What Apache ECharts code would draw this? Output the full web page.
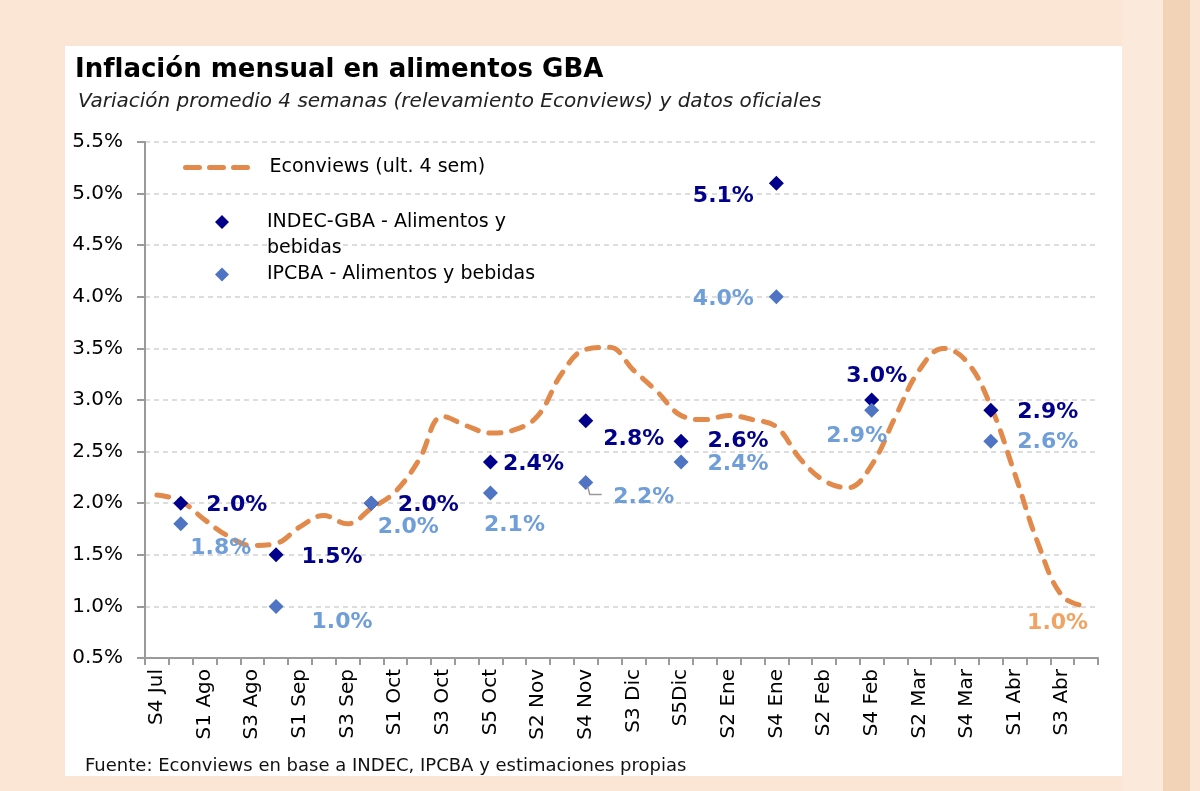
<!DOCTYPE html>
<html lang="es">
<head>
<meta charset="UTF-8">
<title>Inflación mensual en alimentos GBA</title>
<style>
  body { margin: 0; background: #fbe6d6; }
  #main { width: 1200px; height: 791px; }
</style>
</head>
<body>
<div id="main"></div>
<script src="https://cdn.jsdelivr.net/npm/echarts@6/dist/echarts.min.js"></script>
<script>
  // semanas (solo se rotula una de cada dos)
  const weeks = [
    'S4 Jul', 'S5 Jul', 'S1 Ago', 'S2 Ago', 'S3 Ago', 'S4 Ago', 'S1 Sep', 'S2 Sep',
    'S3 Sep', 'S4 Sep', 'S1 Oct', 'S2 Oct', 'S3 Oct', 'S4 Oct', 'S5 Oct', 'S1 Nov',
    'S2 Nov', 'S3 Nov', 'S4 Nov', 'S2 Dic', 'S3 Dic', 'S4 Dic', 'S5Dic', 'S1 Ene',
    'S2 Ene', 'S3 Ene', 'S4 Ene', 'S1 Feb', 'S2 Feb', 'S3 Feb', 'S4 Feb', 'S1 Mar',
    'S2 Mar', 'S3 Mar', 'S4 Mar', 'S5 Mar', 'S1 Abr', 'S2 Abr', 'S3 Abr', 'S4 Abr'
  ];

  // Econviews, promedio ult. 4 semanas (%)
  const econviews = [
    2.08, 2.02, 1.84, 1.68, 1.59, 1.61, 1.77, 1.88, 1.80, 1.95,
    2.11, 2.42, 2.84, 2.75, 2.68, 2.71, 2.85, 3.26, 3.49, 3.51,
    3.29, 3.08, 2.85, 2.81, 2.85, 2.81, 2.74, 2.43, 2.22, 2.15,
    2.37, 2.84, 3.29, 3.50, 3.37, 2.94, 2.29, 1.60, 1.10, 1.00
  ];

  // datos oficiales mensuales (ubicados en la semana de cierre)
  const _ = null;
  const indec = [
    _, 2.0, _, _, _, 1.5, _, _, _, 2.0,
    _, _, _, _, 2.4, _, _, _, 2.8, _,
    _, _, 2.6, _, _, _, 5.1, _, _, _,
    3.0, _, _, _, _, 2.9, _, _, _, _
  ];
  const ipcba = [
    _, 1.8, _, _, _, 1.0, _, _, _, 2.0,
    _, _, _, _, 2.1, _, _, _, 2.2, _,
    _, _, 2.4, _, _, _, 4.0, _, _, _,
    2.9, _, _, _, _, 2.6, _, _, _, _
  ];

  // desplazamiento de las etiquetas respecto del marcador [dx, dy]
  const indecLabelOffset = {
    1: [56, 2], 5: [56, 2], 9: [57, 2], 14: [43, 2], 18: [48, 19],
    22: [57, 0], 26: [-53, 13], 30: [5, -24], 35: [57, 2]
  };
  const ipcbaLabelOffset = {
    1: [40, 24], 5: [66, 16], 9: [37, 24], 14: [24, 32], 18: [58, 15],
    22: [57, 2], 26: [-53, 2], 30: [-15, 26], 35: [57, 1]
  };

  const NAVY = '#00008b';
  const BLUE = '#4f74c4';
  const LIGHT = '#6f9ed8';
  const ORANGE = '#e28a4b';
  const FONT = 'DejaVu Sans';

  const pct = v => v.toFixed(1) + '%';

  function pointData(values, offsets, color) {
    return values.map((v, i) => {
      if (v === null) return null;
      return {
        value: v,
        label: {
          show: true,
          position: 'inside',
          offset: offsets[i],
          formatter: p => pct(p.value),
          color: color,
          fontFamily: FONT,
          fontWeight: 'bold',
          fontSize: 22
        }
      };
    });
  }

  // diamante de leyenda alineado con la primera linea del texto
  const diamondTop = 'path://M7,0L14,7L7,14L0,7Z M7,40L7.01,40Z';

  const chart = echarts.init(document.getElementById('main'));

  const option = {
    backgroundColor: '#fbe6d6',
    animation: false,
    graphic: [
      { id: 'strip1', type: 'rect', shape: { x: 1122, y: 0, width: 41, height: 791 }, style: { fill: '#fbe9dc' }, z: -10 },
      { id: 'strip2', type: 'rect', shape: { x: 1163, y: 0, width: 27, height: 791 }, style: { fill: '#f3d3b8' }, z: -10 },
      { id: 'panel', type: 'rect', shape: { x: 65, y: 46, width: 1057, height: 730 }, style: { fill: '#ffffff' }, z: -10 }
    ],
    title: [
      {
        text: 'Inflación mensual en alimentos GBA',
        left: 70, top: 52,
        textStyle: { fontFamily: FONT, fontWeight: 'bold', fontSize: 26, color: '#000' }
      },
      {
        text: 'Variación promedio 4 semanas (relevamiento Econviews) y datos oficiales',
        left: 73, top: 87,
        textStyle: { fontFamily: FONT, fontStyle: 'italic', fontWeight: 'normal', fontSize: 20, color: '#222' }
      },
      {
        text: 'Fuente: Econviews en base a INDEC, IPCBA y estimaciones propias',
        left: 80, top: 752,
        textStyle: { fontFamily: FONT, fontWeight: 'normal', fontSize: 18, color: '#111' }
      }
    ],
    legend: [
      {
        data: ['Econviews (ult. 4 sem)'],
        left: 183, top: 158, padding: 0,
        itemWidth: 67, itemHeight: 12,
        itemStyle: { opacity: 0 },
        lineStyle: { color: ORANGE, width: 5, type: [14, 10], cap: 'round' },
        textStyle: { fontFamily: FONT, fontSize: 19, color: '#000', padding: [0, 0, 0, 12] }
      },
      {
        data: [{ name: 'INDEC-GBA - Alimentos y bebidas', icon: diamondTop }],
        left: 215, top: 209, padding: 0,
        itemWidth: 14, itemHeight: 40,
        formatter: name => name.replace(' y bebidas', ' y\nbebidas'),
        textStyle: { fontFamily: FONT, fontSize: 19, lineHeight: 26, color: '#000', padding: [0, 0, 0, 33] }
      },
      {
        data: [{ name: 'IPCBA - Alimentos y bebidas', icon: 'diamond' }],
        left: 215, top: 265, padding: 0,
        itemWidth: 14, itemHeight: 14,
        textStyle: { fontFamily: FONT, fontSize: 19, color: '#000', padding: [0, 0, 0, 33] }
      }
    ],
    grid: { left: 145, right: 102, top: 142, bottom: 133 },
    xAxis: {
      type: 'category',
      data: weeks,
      boundaryGap: true,
      axisLine: { lineStyle: { color: '#9a9a9a', width: 2 } },
      axisTick: { show: true, interval: 0, length: 7, lineStyle: { color: '#9a9a9a', width: 2 } },
      axisLabel: {
        interval: 1,
        rotate: 90,
        margin: 11,
        fontFamily: FONT,
        fontSize: 20,
        color: '#000'
      }
    },
    yAxis: {
      type: 'value',
      min: 0.5, max: 5.5, interval: 0.5,
      axisLine: { show: true, lineStyle: { color: '#9a9a9a', width: 2 } },
      axisTick: { show: true, length: 8, lineStyle: { color: '#9a9a9a', width: 2 } },
      axisLabel: {
        formatter: v => pct(v),
        margin: 22,
        fontFamily: FONT,
        fontSize: 20,
        color: '#000'
      },
      splitLine: { lineStyle: { color: '#d2d2d2', width: 1.5, type: [5, 4] } }
    },
    series: [
      {
        name: 'Econviews (ult. 4 sem)',
        type: 'line',
        data: econviews,
        smooth: 0.4,
        symbol: 'none',
        lineStyle: { color: ORANGE, width: 5, type: [12, 11], cap: 'round' },
        itemStyle: { color: ORANGE },
        endLabel: {
          show: true,
          distance: 0,
          offset: [-59, 17],
          formatter: p => pct(p.value),
          color: '#f0a362',
          fontFamily: FONT,
          fontWeight: 'bold',
          fontSize: 22
        },
        z: 2
      },
      {
        name: 'INDEC-GBA - Alimentos y bebidas',
        type: 'scatter',
        data: pointData(indec, indecLabelOffset, NAVY),
        symbol: 'diamond',
        symbolSize: 15,
        itemStyle: { color: NAVY, opacity: 1 },
        z: 3
      },
      {
        name: 'IPCBA - Alimentos y bebidas',
        type: 'scatter',
        data: pointData(ipcba, ipcbaLabelOffset, LIGHT),
        symbol: 'diamond',
        symbolSize: 15,
        itemStyle: { color: BLUE, opacity: 1 },
        z: 4
      }
    ]
  };

  chart.setOption(option);

  // linea guia de la etiqueta IPCBA de S4 Nov, ubicada con la escala del grafico
  const guideIdx = 18;
  const g = chart.convertToPixel({ xAxisIndex: 0, yAxisIndex: 0 }, [guideIdx, ipcba[guideIdx]]);
  chart.setOption({
    graphic: [
      {
        id: 'guide',
        type: 'polyline',
        shape: { points: [[g[0] + 2, g[1] + 4], [g[0] + 4, g[1] + 12], [g[0] + 16, g[1] + 12]] },
        style: { stroke: '#9a9a9a', lineWidth: 1.5, fill: null },
        z: 5
      }
    ]
  });
</script>
</body>
</html>
